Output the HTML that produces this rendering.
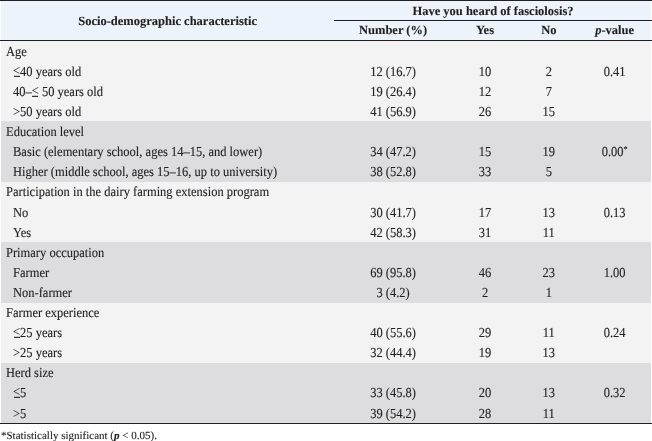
<!DOCTYPE html>
<html><head><meta charset="utf-8"><style>
html,body{margin:0;padding:0;background:#fff;width:652px;height:441px;overflow:hidden;position:relative}
#w{position:absolute;left:0;top:0;width:652px;height:441px;will-change:transform}
.le{position:relative;display:inline-block}
.le i{font-style:normal;position:relative;top:-1px}
.le:after{content:"";position:absolute;left:0.5px;right:0.5px;top:14px;height:1px;background:#231f20}
body{font-family:"Liberation Serif",serif;font-size:12.5px;color:#231f20}
.bg{position:absolute;left:1px;width:650px}
.ln{position:absolute;background:#231f20;height:1px}
.t{position:absolute;white-space:nowrap;line-height:20px;transform:scaleY(1.1);transform-origin:0 6px;text-rendering:geometricPrecision;-webkit-text-stroke:0.12px #231f20}
.c{width:120px;text-align:center}
.b{font-weight:bold;transform:none;-webkit-text-stroke:0.1px #231f20}
sup{font-size:8px;vertical-align:3px;line-height:0}
.foot{position:absolute;left:1px;font-size:11px;white-space:nowrap;line-height:12px;text-rendering:geometricPrecision;-webkit-text-stroke:0.12px #231f20}
</style></head><body><div id="w">
<div class="bg" style="top:1px;height:39px;background:#ecf3fb"></div>
<div class="bg" style="top:41px;height:80px;background:#f3f3f3"></div><div class="bg" style="top:121px;height:61px;background:#dddddf"></div><div class="bg" style="top:182px;height:60px;background:#f3f3f3"></div><div class="bg" style="top:242px;height:61px;background:#dddddf"></div><div class="bg" style="top:303px;height:60px;background:#f3f3f3"></div><div class="bg" style="top:363px;height:60px;background:#dddddf"></div><div class="t" style="left:6px;top:40.78px">Age</div><div class="t" style="left:13px;top:60.88px"><span class='le'><i>&lt;</i></span>40 years old</div><div class="t c" style="left:333.10px;top:60.88px">12 (16.7)</div><div class="t c" style="left:425.00px;top:60.88px">10</div><div class="t c" style="left:488.80px;top:60.88px">2</div><div class="t c" style="left:554.60px;top:60.88px">0.41</div><div class="t" style="left:13px;top:80.98px">40–<span class='le'><i>&lt;</i></span> 50 years old</div><div class="t c" style="left:333.10px;top:80.98px">19 (26.4)</div><div class="t c" style="left:425.00px;top:80.98px">12</div><div class="t c" style="left:488.80px;top:80.98px">7</div><div class="t" style="left:13px;top:101.08px">&gt;50 years old</div><div class="t c" style="left:333.10px;top:101.08px">41 (56.9)</div><div class="t c" style="left:425.00px;top:101.08px">26</div><div class="t c" style="left:488.80px;top:101.08px">15</div><div class="t" style="left:6px;top:121.18px">Education level</div><div class="t" style="left:13px;top:141.28px">Basic (elementary school, ages 14–15, and lower)</div><div class="t c" style="left:333.10px;top:141.28px">34 (47.2)</div><div class="t c" style="left:425.00px;top:141.28px">15</div><div class="t c" style="left:488.80px;top:141.28px">19</div><div class="t c" style="left:554.60px;top:141.28px">0.00<sup>*</sup></div><div class="t" style="left:13px;top:161.38px">Higher (middle school, ages 15–16, up to university)</div><div class="t c" style="left:333.10px;top:161.38px">38 (52.8)</div><div class="t c" style="left:425.00px;top:161.38px">33</div><div class="t c" style="left:488.80px;top:161.38px">5</div><div class="t" style="left:6px;top:181.48px">Participation in the dairy farming extension program</div><div class="t" style="left:13px;top:201.58px">No</div><div class="t c" style="left:333.10px;top:201.58px">30 (41.7)</div><div class="t c" style="left:425.00px;top:201.58px">17</div><div class="t c" style="left:488.80px;top:201.58px">13</div><div class="t c" style="left:554.60px;top:201.58px">0.13</div><div class="t" style="left:13px;top:221.68px">Yes</div><div class="t c" style="left:333.10px;top:221.68px">42 (58.3)</div><div class="t c" style="left:425.00px;top:221.68px">31</div><div class="t c" style="left:488.80px;top:221.68px">11</div><div class="t" style="left:6px;top:241.78px">Primary occupation</div><div class="t" style="left:13px;top:261.88px">Farmer</div><div class="t c" style="left:333.10px;top:261.88px">69 (95.8)</div><div class="t c" style="left:425.00px;top:261.88px">46</div><div class="t c" style="left:488.80px;top:261.88px">23</div><div class="t c" style="left:554.60px;top:261.88px">1.00</div><div class="t" style="left:13px;top:281.98px">Non-farmer</div><div class="t c" style="left:333.10px;top:281.98px">3 (4.2)</div><div class="t c" style="left:425.00px;top:281.98px">2</div><div class="t c" style="left:488.80px;top:281.98px">1</div><div class="t" style="left:6px;top:302.08px">Farmer experience</div><div class="t" style="left:13px;top:322.18px"><span class='le'><i>&lt;</i></span>25 years</div><div class="t c" style="left:333.10px;top:322.18px">40 (55.6)</div><div class="t c" style="left:425.00px;top:322.18px">29</div><div class="t c" style="left:488.80px;top:322.18px">11</div><div class="t c" style="left:554.60px;top:322.18px">0.24</div><div class="t" style="left:13px;top:342.28px">&gt;25 years</div><div class="t c" style="left:333.10px;top:342.28px">32 (44.4)</div><div class="t c" style="left:425.00px;top:342.28px">19</div><div class="t c" style="left:488.80px;top:342.28px">13</div><div class="t" style="left:6px;top:362.38px">Herd size</div><div class="t" style="left:13px;top:382.48px"><span class='le'><i>&lt;</i></span>5</div><div class="t c" style="left:333.10px;top:382.48px">33 (45.8)</div><div class="t c" style="left:425.00px;top:382.48px">20</div><div class="t c" style="left:488.80px;top:382.48px">13</div><div class="t c" style="left:554.60px;top:382.48px">0.32</div><div class="t" style="left:13px;top:402.58px">&gt;5</div><div class="t c" style="left:333.10px;top:402.58px">39 (54.2)</div><div class="t c" style="left:425.00px;top:402.58px">28</div><div class="t c" style="left:488.80px;top:402.58px">11</div>
<div class="ln" style="left:0;top:0;width:652px"></div>
<div class="ln" style="left:334px;top:20px;width:318px"></div>
<div class="ln" style="left:0;top:40px;width:652px"></div>
<div class="ln" style="left:0;top:423px;width:652px"></div>
<div class="t b c" style="left:17.599999999999994px;width:300px;top:10.98px">Socio-demographic characteristic</div>
<div class="t b c" style="left:343px;width:300px;top:0.68px">Have you heard of fasciolosis?</div>
<div class="t b c" style="left:333.1px;top:20.28px">Number (%)</div>
<div class="t b c" style="left:425.0px;top:20.28px">Yes</div>
<div class="t b c" style="left:488.79999999999995px;top:20.28px">No</div>
<div class="t b c" style="left:554.6px;top:20.28px"><i>p</i>-value</div>
<div class="foot" style="top:430px">*Statistically significant (<b><i>p</i></b> &lt; 0.05).</div>
</div></body></html>
